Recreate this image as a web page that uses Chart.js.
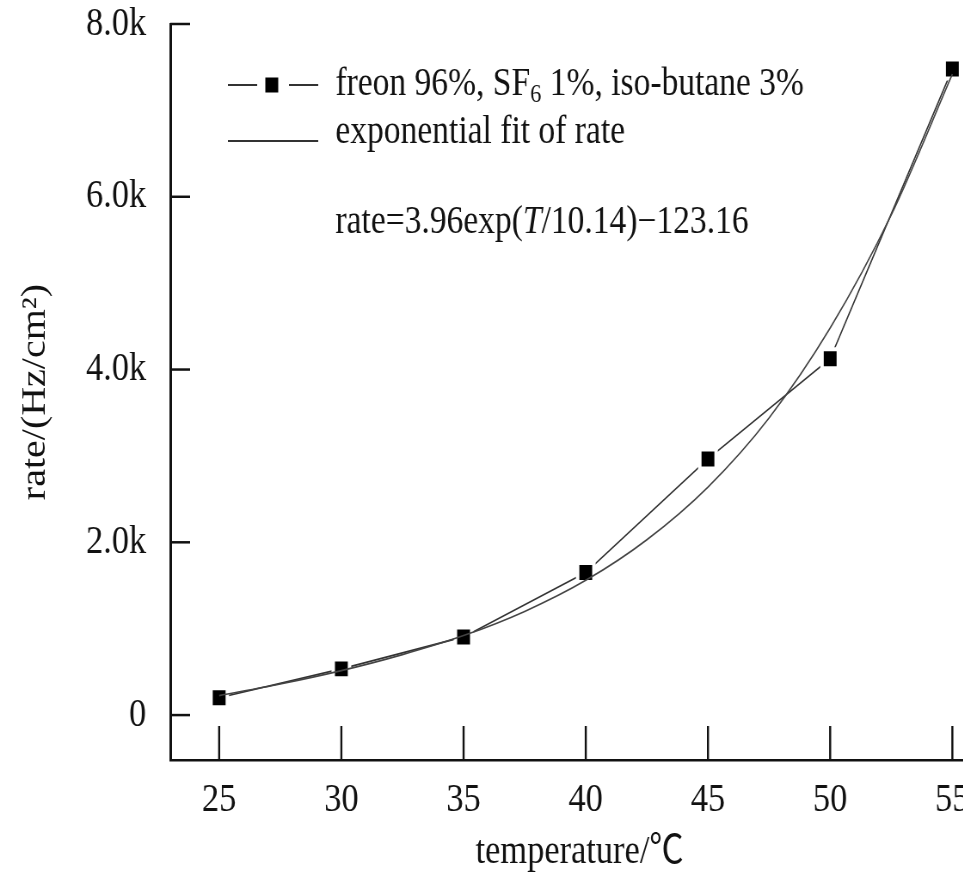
<!DOCTYPE html>
<html>
<head>
<meta charset="utf-8">
<script src="https://cdn.jsdelivr.net/npm/chart.js@4.4.1/dist/chart.umd.min.js"></script>
<style>
  html, body { margin: 0; padding: 0; background: #fff; }
  #wrap { width: 963px; height: 891px; overflow: hidden; position: relative; }
  #rateChart { transform: scaleX(0.86); transform-origin: 0 0; }
</style>
</head>
<body>
<div id="wrap"><canvas id="rateChart" width="1170" height="891"></canvas></div>
<script>
const temps = [25, 30, 35, 40, 45, 50, 55];
const rateValues = [200, 535, 905, 1650, 2965, 4125, 7480];

const fitTemps = [25, 27.5, 30, 32.5, 35, 37.5, 40, 42.5, 45, 47.5, 50, 52.5, 55];
const fitValues = [225, 360, 515, 700, 920, 1200, 1560, 2030, 2640, 3440, 4480, 5790, 7420];

const xTicks = [25, 30, 35, 40, 45, 50, 55];
const yTicks = [0, 2000, 4000, 6000, 8000];
const yTickLabels = ["0", "2.0k", "4.0k", "6.0k", "8.0k"];

const serif = '"Liberation Serif", "Noto Sans CJK SC", "Times New Roman", serif';
const ink = "#111";

// legend, formula and inward tick marks
const decor = {
  id: "decor",
  afterDraw(chart) {
    const { ctx, chartArea: a, scales: { x, y } } = chart;
    const line = (x1, y1, x2, y2) => {
      ctx.beginPath();
      ctx.moveTo(x1, y1);
      ctx.lineTo(x2, y2);
      ctx.stroke();
    };
    ctx.save();
    ctx.strokeStyle = ink;

    ctx.lineWidth = 2.5;
    yTicks.forEach((v) => {
      const py = y.getPixelForValue(v);
      line(a.left, py, a.left + 23, py);
    });
    ctx.lineWidth = 2.4;
    xTicks.forEach((v) => {
      const px = x.getPixelForValue(v);
      line(px, a.bottom - 34, px, a.bottom);
    });

    // legend symbols
    ctx.strokeStyle = "#333";
    ctx.lineWidth = 2;
    line(265, 85, 299, 85);
    line(336, 85, 370, 85);
    ctx.fillStyle = "#000";
    ctx.fillRect(316 - 7.5, 85 - 7.5, 15, 15);
    line(265, 141, 370, 141);

    // legend texts
    ctx.fillStyle = ink;
    ctx.textBaseline = "alphabetic";
    ctx.textAlign = "left";
    const tx = 390;
    const big = "39px " + serif;
    const small = "26px " + serif;
    const put = (text, font, px, py) => {
      ctx.font = font;
      ctx.fillText(text, px, py);
      return px + ctx.measureText(text).width;
    };
    let cx = put("freon 96%, SF", big, tx, 95);
    cx = put("6", small, cx, 102);
    put(" 1%, iso-butane 3%", big, cx, 95);

    put("exponential fit of rate", big, tx, 143);

    cx = put("rate=3.96exp(", big, tx, 233);
    cx = put("T", "italic " + big, cx, 233);
    put("/10.14)\u2212123.16", big, cx, 233);

    ctx.restore();
  },
};

new Chart(document.getElementById("rateChart"), {
  type: "line",
  data: {
    datasets: [
      {
        label: "freon 96%, SF6 1%, iso-butane 3%",
        data: temps.map((t, i) => ({ x: t, y: rateValues[i] })),
        borderColor: "#333",
        borderWidth: 1.6,
        pointStyle: "rect",
        pointRadius: 13.4,
        pointBackgroundColor: "#000",
        pointBorderColor: "#fff",
        pointBorderWidth: 4,
        tension: 0,
        order: 2,
      },
      {
        label: "exponential fit of rate",
        data: fitTemps.map((t, i) => ({ x: t, y: fitValues[i] })),
        borderColor: "#444",
        borderWidth: 1.6,
        pointRadius: 0,
        cubicInterpolationMode: "monotone",
        order: 1,
      },
    ],
  },
  options: {
    responsive: false,
    animation: false,
    events: [],
    layout: { padding: { top: 24, right: 20, left: 0, bottom: 0 } },
    plugins: {
      legend: { display: false },
      tooltip: { enabled: false },
    },
    scales: {
      x: {
        type: "linear",
        min: 23,
        max: 56.5,
        afterBuildTicks: (s) => {
          s.ticks = xTicks.map((v) => ({ value: v }));
        },
        afterFit: (s) => {
          s.height = 131;
        },
        grid: { display: false, drawTicks: false },
        border: { display: true, color: ink, width: 2.5 },
        ticks: {
          color: ink,
          font: { family: serif, size: 40 },
          padding: 16,
          maxRotation: 0,
          autoSkip: false,
        },
        title: {
          display: true,
          text: "temperature/\u2103",
          color: ink,
          font: { family: serif, size: 40 },
          padding: { top: 0, bottom: 15 },
        },
      },
      y: {
        min: -520,
        max: 8000,
        afterBuildTicks: (s) => {
          s.ticks = yTicks.map((v) => ({ value: v }));
        },
        afterFit: (s) => {
          s.width = 198;
          s.paddingTop = 0;
          s.paddingBottom = 0;
        },
        grid: { display: false, drawTicks: false },
        border: { display: true, color: ink, width: 3 },
        ticks: {
          color: ink,
          font: { family: serif, size: 40 },
          padding: 28,
          callback: (v) => yTickLabels[yTicks.indexOf(v)],
        },
        title: {
          display: true,
          text: "rate/(Hz/cm\u00b2)",
          color: ink,
          font: { family: serif, size: 40 },
          padding: { top: 17, bottom: 0 },
        },
      },
    },
  },
  plugins: [decor],
});
</script>
</body>
</html>
